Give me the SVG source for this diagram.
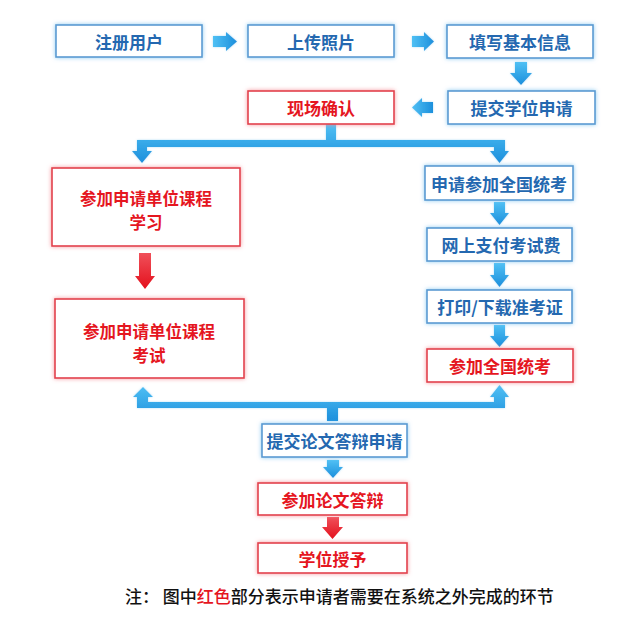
<svg xmlns="http://www.w3.org/2000/svg" width="640" height="621" viewBox="0 0 640 621">
<defs>
<linearGradient id="bg" x1="0" y1="0" x2="0" y2="1"><stop offset="0" stop-color="#4fc0f4"/><stop offset="1" stop-color="#1c8fdc"/></linearGradient>
<linearGradient id="bgh" x1="0" y1="0" x2="1" y2="0"><stop offset="0" stop-color="#4fc0f4"/><stop offset="1" stop-color="#1c8fdc"/></linearGradient>
<linearGradient id="rg" x1="0" y1="0" x2="0" y2="1"><stop offset="0" stop-color="#f0505a"/><stop offset="1" stop-color="#e4101c"/></linearGradient>
<filter id="gb" x="-20%" y="-40%" width="140%" height="180%"><feDropShadow dx="0" dy="0" stdDeviation="2.2" flood-color="#7fc4f0" flood-opacity="0.9"/></filter>
<filter id="gr" x="-20%" y="-40%" width="140%" height="180%"><feDropShadow dx="0" dy="0" stdDeviation="2.2" flood-color="#f58a92" flood-opacity="0.9"/></filter>
<filter id="ga" x="-30%" y="-30%" width="160%" height="160%"><feDropShadow dx="0" dy="0" stdDeviation="1.2" flood-color="#9fd6f5" flood-opacity="0.8"/></filter>
</defs>
<style>
.b{fill:#fff;stroke:#5a9ad2;stroke-width:1.6;filter:url(#gb)}
.r{fill:#fff;stroke:#e3404b;stroke-width:1.6;filter:url(#gr)}
.t{font-family:"Noto Sans CJK SC","Noto Sans",sans-serif;font-size:17px;font-weight:600;text-anchor:middle;dominant-baseline:central}
.t2{font-size:16.5px}
.tb{fill:#2468b0}
.tr{fill:#e5161f}
.ab{fill:url(#bg);filter:url(#ga)}
.ah{fill:url(#bgh);filter:url(#ga)}
.ar{fill:url(#rg)}
.n{font-family:"Noto Sans CJK SC","Noto Sans",sans-serif;font-size:17px;font-weight:500;fill:#111}
</style>
<rect width="640" height="621" fill="#fff"/>
<g id="connectors">
<path class="ah" d="M213,36 H226 V32 L237,41.5 L226,51 V47 H213 Z"/>
<path class="ah" d="M412,36 H424 V32 L434,41.5 L424,51 V47 H412 Z"/>
<path class="ab" d="M515,62 H527 V73 H532 L521,85 L510,73 H515 Z"/>
<path class="ah" d="M433,102 H422 V98 L412,107.5 L422,117 V113 H433 Z"/>
<path class="ab" d="M326,124 H336 V140 H505 V151 H509 L499.5,163 L490,151 H494 V147 H147 V151 H152 L142,163 L132,151 H137 V140 H326 Z"/>
<path class="ar" d="M139,253 H151 V276 H155 L145,289 L135,276 H139 Z"/>
<path class="ab" d="M494,202 H505 V213 H509 L499.5,225 L490,213 H494 Z"/>
<path class="ab" d="M494,263 H505 V275 H509 L499.5,287 L490,275 H494 Z"/>
<path class="ab" d="M494,325 H505 V336 H509 L499.5,347 L490,336 H494 Z"/>
<path class="ab" d="M143,387 L153,397 H148 V402 H494 V397 H490 L499.5,385 L509,397 H505 V408 H338 V421 H327 V408 H137 V397 H133 Z"/>
<path class="ab" d="M327,460 H339 V467 H343 L333,478 L323,467 H327 Z"/>
<path class="ar" d="M327,517 H339 V527 H343 L332.5,539 L322,527 H327 Z"/>
</g>
<g id="n1"><rect class="b" x="56" y="25" width="146" height="32"/><text class="t tb" x="129" y="41">注册用户</text></g>
<g id="n2"><rect class="b" x="248" y="25" width="146" height="32"/><text class="t tb" x="321" y="41">上传照片</text></g>
<g id="n3"><rect class="b" x="447" y="25" width="146" height="33"/><text class="t tb" x="520" y="41.5">填写基本信息</text></g>
<g id="n4"><rect class="b" x="448" y="91" width="147" height="33"/><text class="t tb" x="521.5" y="107.5">提交学位申请</text></g>
<g id="n5"><rect class="r" x="248" y="91" width="146" height="33"/><text class="t tr" x="321" y="107.5">现场确认</text></g>
<g id="n6"><rect class="r" x="52" y="168" width="188" height="78"/><text class="t t2 tr" x="146" y="198">参加申请单位课程</text><text class="t t2 tr" x="146" y="222">学习</text></g>
<g id="n7"><rect class="r" x="55" y="299" width="189" height="79"/><text class="t t2 tr" x="149" y="331">参加申请单位课程</text><text class="t t2 tr" x="149" y="355">考试</text></g>
<g id="n8"><rect class="b" x="425" y="166" width="148" height="34"/><text class="t tb" x="499" y="183">申请参加全国统考</text></g>
<g id="n9"><rect class="b" x="427" y="228" width="145" height="33"/><text class="t tb" x="501" y="244.5">网上支付考试费</text></g>
<g id="n10"><rect class="b" x="427" y="290" width="145" height="33"/><text class="t tb" x="500" y="306.5">打印/下载准考证</text></g>
<g id="n11"><rect class="r" x="427" y="349" width="146" height="33"/><text class="t tr" x="500" y="365.5">参加全国统考</text></g>
<g id="n12"><rect class="b" x="262" y="424" width="145" height="33"/><text class="t tb" x="334.5" y="440.5">提交论文答辩申请</text></g>
<g id="n13"><rect class="r" x="258" y="483" width="149" height="32"/><text class="t tr" x="332.5" y="499">参加论文答辩</text></g>
<g id="n14"><rect class="r" x="258" y="543" width="149" height="30"/><text class="t tr" x="332.5" y="558">学位授予</text></g>
<text class="n" x="125" y="603">注： 图中<tspan fill="#e5161f">红色</tspan>部分表示申请者需要在系统之外完成的环节</text>
</svg>
